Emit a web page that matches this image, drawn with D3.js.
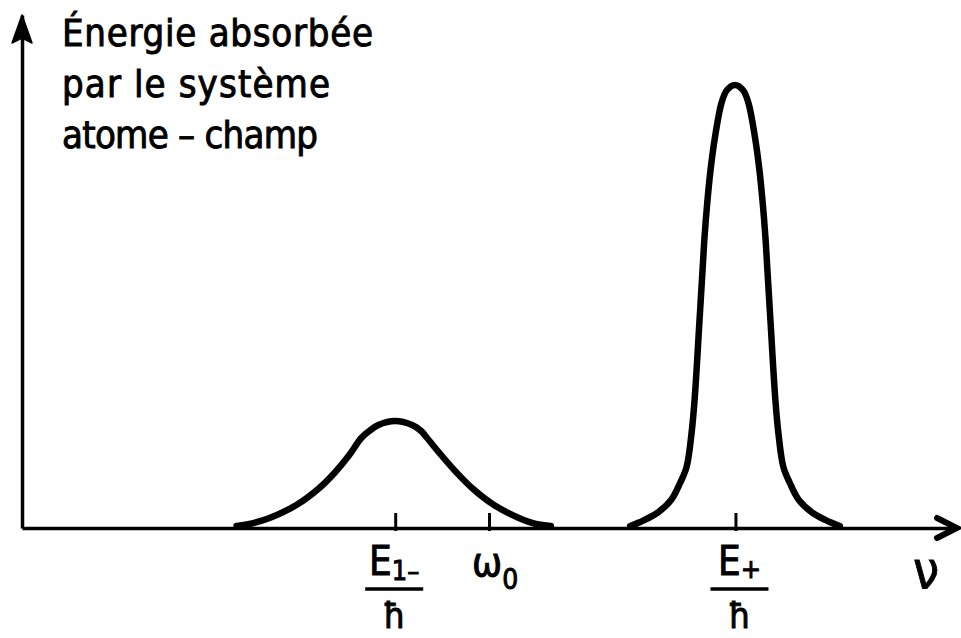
<!DOCTYPE html>
<html>
<head>
<meta charset="utf-8">
<script src="https://cdn.jsdelivr.net/npm/d3@7"></script>
<style>
body { margin: 0; background: #fff; }
text { font-family: "DejaVu Sans Condensed", "DejaVu Sans", sans-serif; fill: #000; stroke: #000; stroke-width: 0.9px; }
</style>
</head>
<body>
<div id="chart"></div>
<script>
// absorbed energy vs frequency (arbitrary units)
var lowNu = [215, 228, 248, 275, 298, 314, 328, 340, 348, 357, 374, 391, 400, 406, 420, 435, 451, 473, 498, 515, 530];
var lowEnergy = [2, 4, 10, 23, 40, 56, 73, 90, 97, 103, 107, 103, 97, 90, 73, 56, 40, 23, 10, 4, 2];

var highNu = [609.5, 619.5, 636.5, 650.5, 659.5, 666, 671, 674, 676.2, 678.2, 680.2, 682, 684, 686.7, 690, 694.5, 701, 706.5, 714.5,
    722.5, 728, 734.5, 739, 742.3, 745, 747, 748.8, 750.8, 752.8, 755, 758, 763, 769.5, 778.5, 792.5, 809.5, 819.5];
var highEnergy = [2, 6, 15, 28, 45, 61, 95, 128, 161, 195, 228, 258, 291, 325, 358, 391, 425, 438, 443,
    438, 425, 391, 358, 325, 291, 258, 228, 195, 161, 128, 95, 61, 45, 28, 15, 6, 2];

var tickNu = [374, 468, 715];
var titleLines = ["Énergie absorbée", "par le système", "atome – champ"];

var width = 961, height = 638;
var svg = d3.select("#chart").append("svg")
    .attr("width", width)
    .attr("height", height);

var x = d3.scaleLinear().domain([0, 936]).range([22, 956]);
var y = d3.scaleLinear().domain([0, 513]).range([528, 15]);

// axes
var xAxis = svg.append("g")
    .attr("transform", "translate(0," + y(0) + ")")
    .call(d3.axisBottom(x).tickValues(tickNu).tickSize(-15).tickSizeOuter(0).tickFormat(""));
xAxis.select(".domain").attr("stroke", "#000").attr("stroke-width", 3.5);
xAxis.selectAll(".tick line").attr("stroke", "#000").attr("stroke-width", 3).attr("y1", 3);

var yAxis = svg.append("g")
    .attr("transform", "translate(" + x(0) + ",0)")
    .call(d3.axisLeft(y).tickValues([]).tickSizeOuter(0));
yAxis.select(".domain").attr("stroke", "#000").attr("stroke-width", 3.5);

// arrow heads
svg.append("path")
    .attr("d", "M" + x(0) + "," + y(513) + " L" + (x(0) + 10) + "," + (y(513) + 28) +
        " L" + x(0) + "," + (y(513) + 23) + " L" + (x(0) - 10) + "," + (y(513) + 28) + " Z")
    .attr("fill", "#000")
    .attr("stroke", "#000")
    .attr("stroke-width", 1.5)
    .attr("stroke-linejoin", "round");
svg.append("path")
    .attr("d", "M" + (x(936) - 19) + "," + (y(0) - 10) + " L" + (x(936) + 1) + "," + y(0) +
        " L" + (x(936) - 19) + "," + (y(0) + 10))
    .attr("fill", "none")
    .attr("stroke", "#000")
    .attr("stroke-width", 6)
    .attr("stroke-linecap", "round");

// the two absorption peaks
var line = d3.line()
    .x(function (d) { return x(d[0]); })
    .y(function (d) { return y(d[1]); })
    .curve(d3.curveCatmullRom.alpha(0.5));

[[lowNu, lowEnergy], [highNu, highEnergy]].forEach(function (s) {
    svg.append("path")
        .datum(d3.zip(s[0], s[1]))
        .attr("d", line)
        .attr("fill", "none")
        .attr("stroke", "#000")
        .attr("stroke-width", 6.5)
        .attr("stroke-linecap", "round")
        .attr("stroke-linejoin", "round");
});

// y label
var lens = [311, 268, 256];
svg.selectAll(".title")
    .data(titleLines)
    .enter().append("text")
    .attr("class", "title")
    .attr("x", 62)
    .attr("y", function (d, i) { return 46 + i * 51; })
    .attr("textLength", function (d, i) { return lens[i]; })
    .attr("lengthAdjust", "spacing")
    .style("font-size", "38px")
    .text(function (d) { return d; });

// tick labels
function fraction(cx, main, sub, subDy) {
    var t = svg.append("text")
        .attr("x", cx)
        .attr("y", 575)
        .attr("text-anchor", "middle")
        .style("font-size", "40px");
    t.append("tspan").text(main);
    t.append("tspan").attr("dy", subDy).style("font-size", "27px").text(sub);
    svg.append("line")
        .attr("x1", cx - 29).attr("x2", cx + 29)
        .attr("y1", 589).attr("y2", 589)
        .attr("stroke", "#000").attr("stroke-width", 3.5);
    svg.append("text")
        .attr("x", cx)
        .attr("y", 628)
        .attr("text-anchor", "middle")
        .style("font-size", "36px")
        .text("ħ");
}
fraction(x(tickNu[0]) - 1, "E", "1–", 5);
fraction(x(tickNu[2]) + 4, "E", "+", 3);

var omega = svg.append("text")
    .attr("x", x(tickNu[1]) - 17)
    .attr("y", 576)
    .style("font-size", "40px");
omega.append("tspan").text("ω");
omega.append("tspan").attr("dy", 13).style("font-size", "28px").text("0");

svg.append("text")
    .attr("x", 913)
    .attr("y", 588)
    .style("font-size", "52px")
    .text("ν");
</script>
</body>
</html>
